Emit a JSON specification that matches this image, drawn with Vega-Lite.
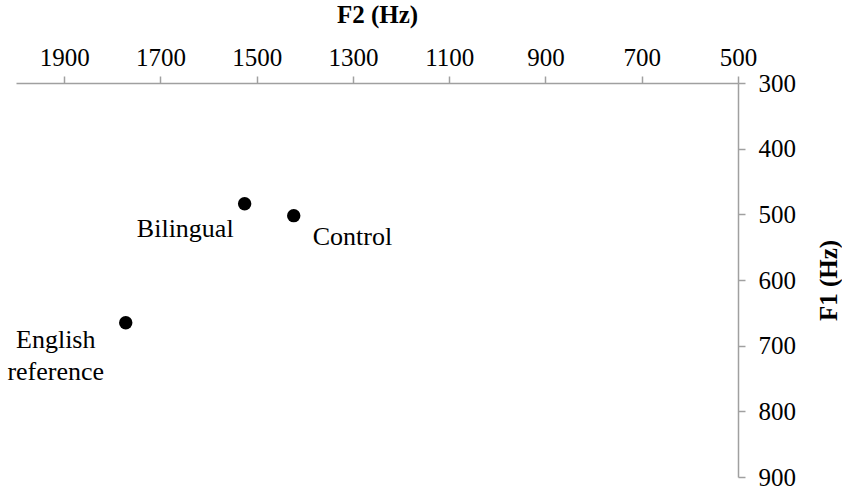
{
  "$schema": "https://vega.github.io/schema/vega-lite/v6.json",
  "autosize": "none",
  "width": 722,
  "height": 394,
  "padding": {"left": 16, "top": 83, "right": 104, "bottom": 17},
  "background": "white",
  "config": {
    "view": {"stroke": null},
    "font": "Liberation Serif",
    "axis": {
      "grid": false,
      "domainColor": "#a0a0a0",
      "tickColor": "#a0a0a0",
      "domainWidth": 1.5,
      "tickWidth": 1.5,
      "tickSize": 7,
      "labelFont": "Liberation Serif",
      "labelFontSize": 25,
      "labelColor": "black",
      "titleFont": "Liberation Serif",
      "titleFontSize": 25,
      "titleFontWeight": "bold",
      "titleColor": "black"
    }
  },
  "data": {
    "values": [
      {"group": "Bilingual", "F2": 1525, "F1": 484},
      {"group": "Control", "F2": 1423, "F1": 502},
      {"group": "English reference", "F2": 1772, "F1": 665}
    ]
  },
  "encoding": {
    "x": {
      "field": "F2", "type": "quantitative",
      "scale": {"domain": [500, 2000], "reverse": true, "nice": false, "zero": false},
      "axis": {"orient": "top", "title": "F2 (Hz)", "format": "d", "values": [500, 700, 900, 1100, 1300, 1500, 1700, 1900], "labelPadding": 6, "titlePadding": 18, "labelFlush": false}
    },
    "y": {
      "field": "F1", "type": "quantitative",
      "scale": {"domain": [300, 900], "reverse": true, "nice": false, "zero": false},
      "axis": {"orient": "right", "title": "F1 (Hz)", "format": "d", "titleAngle": -90, "values": [300, 400, 500, 600, 700, 800, 900], "labelPadding": 13, "titlePadding": 46, "labelFlush": false}
    }
  },
  "layer": [
    {"mark": {"type": "point", "filled": true, "color": "black", "size": 180, "opacity": 1}},
    {
      "transform": [{"filter": "datum.group === 'Bilingual'"}],
      "mark": {"type": "text", "align": "right", "baseline": "middle", "dx": -11, "dy": 25, "fontSize": 26, "font": "Liberation Serif", "color": "black"},
      "encoding": {"text": {"field": "group"}}
    },
    {
      "transform": [{"filter": "datum.group === 'Control'"}],
      "mark": {"type": "text", "align": "left", "baseline": "middle", "dx": 19, "dy": 21, "fontSize": 26, "font": "Liberation Serif", "color": "black"},
      "encoding": {"text": {"field": "group"}}
    },
    {
      "transform": [{"filter": "datum.group === 'English reference'"}],
      "mark": {"type": "text", "align": "center", "baseline": "middle", "dx": -70, "dy": 17, "fontSize": 26, "font": "Liberation Serif", "color": "black", "lineHeight": 32},
      "encoding": {"text": {"value": ["English", "reference"]}}
    }
  ]
}
